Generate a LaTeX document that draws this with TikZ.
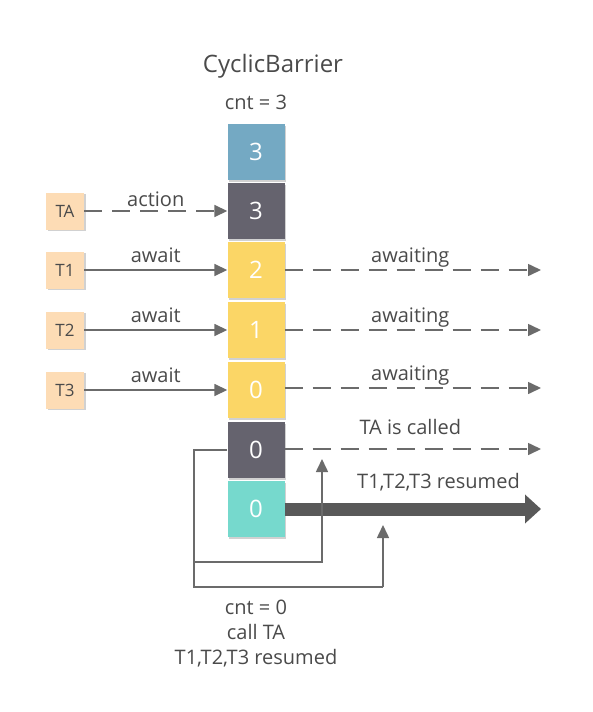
\documentclass[tikz,border=0pt]{standalone}
\usepackage{fontspec}
\setmainfont{Open Sans}
\usetikzlibrary{arrows.meta}
\definecolor{cblue}{HTML}{74A9C3}
\definecolor{cdark}{HTML}{65636E}
\definecolor{cyel}{HTML}{FBD666}
\definecolor{cteal}{HTML}{76D9CD}
\definecolor{cpeach}{HTML}{FDDCB5}
\definecolor{cline}{HTML}{6B6B6B}
\definecolor{ctext}{HTML}{4A4A4A}
\begin{document}
\begin{tikzpicture}[x=1pt,y=-1pt,
  blk/.style={minimum width=57pt,minimum height=56pt,inner sep=0pt,text=white,font=\fontsize{24}{24}\selectfont,
     preaction={fill=black!30,opacity=0.6,transform canvas={shift={(1.5pt,-1.5pt)}}}},
  thr/.style={fill=cpeach,minimum width=38pt,minimum height=37pt,inner sep=0pt,text=ctext,font=\fontsize{17}{17}\selectfont,
     preaction={fill=black!30,opacity=0.6,transform canvas={shift={(1.5pt,-1.5pt)}}}},
  lbl/.style={text=ctext,font=\fontsize{20}{20}\selectfont,inner sep=0pt},
  bl/.style={lbl,anchor=base,yshift=#1},
  conn/.style={draw=cline,line width=1.6pt,-{Triangle[length=13pt,width=12pt]}},
  dsh/.style={conn,dash pattern=on 18pt off 10pt},
  wire/.style={draw=cline,line width=1.6pt}]
\useasboundingbox (0,0) rectangle (593,712);
% title
\node[lbl,font=\fontsize{24}{24}\selectfont,anchor=base] (title) at (273,72) {CyclicBarrier};
\node[lbl,anchor=base] (cnt3) at (256,109) {cnt = 3};
% blocks
\node[blk,fill=cblue] (b1) at (256,152) {3};
\node[blk,fill=cdark] (b2) at (256,211) {3};
\node[blk,fill=cyel] (b3) at (256,270) {2};
\node[blk,fill=cyel] (b4) at (256,330) {1};
\node[blk,fill=cyel] (b5) at (256,390) {0};
\node[blk,fill=cdark] (b6) at (256,450) {0};
\node[blk,fill=cteal] (b7) at (256,509) {0};
% threads
\node[thr] (ta) at (65,211) {TA};
\node[thr] (t1) at (65,270) {T1};
\node[thr] (t2) at (65,330) {T2};
\node[thr] (t3) at (65,390) {T3};
% left arrows
\draw[dsh] (ta) -- (b2) node[bl=5pt,midway] {action};
\draw[conn] (t1) -- (b3) node[bl=8pt,midway] {await};
\draw[conn] (t2) -- (b4) node[bl=8pt,midway] {await};
\draw[conn] (t3) -- (b5) node[bl=8pt,midway] {await};
% right ends
\coordinate (e3) at (541,270);
\coordinate (e4) at (541,330);
\coordinate (e5) at (541,388);
\coordinate (e6) at (541,449);
\coordinate (e7) at (541,509);
\draw[dsh] (b3.east) -- (e3) node[bl=8pt,pos=0.49] {awaiting};
\draw[dsh] (b4.east) -- (e4) node[bl=8pt,pos=0.49] {awaiting};
\draw[dsh] (b5.east|-e5) -- (e5) node[bl=8pt,pos=0.49] {awaiting};
\draw[dsh] (b6.east|-e6) -- (e6) node[bl=15pt,pos=0.49] {TA is called};
\draw[draw=black!65,line width=13pt,-{Triangle[length=16pt,width=28pt]}] (b7.east) -- (e7)
   node[bl=21pt,pos=0.6] {T1,T2,T3 resumed};
% feedback loops
\coordinate (c1) at (322,459);
\coordinate (c2) at (383,525);
\draw[wire] (b6.west) -- (194,450) -- (194,587) -- (383,587);
\draw[conn] (194,562) -- (322,562) -- (c1);
\draw[conn] (383,587) -- (c2);
% bottom text
\node[lbl,anchor=base] (n1) at (256,614) {cnt = 0};
\node[lbl,anchor=base] (n2) at (256,639) {call TA};
\node[lbl,anchor=base] (n3) at (256,664) {T1,T2,T3 resumed};
\end{tikzpicture}
\end{document}
